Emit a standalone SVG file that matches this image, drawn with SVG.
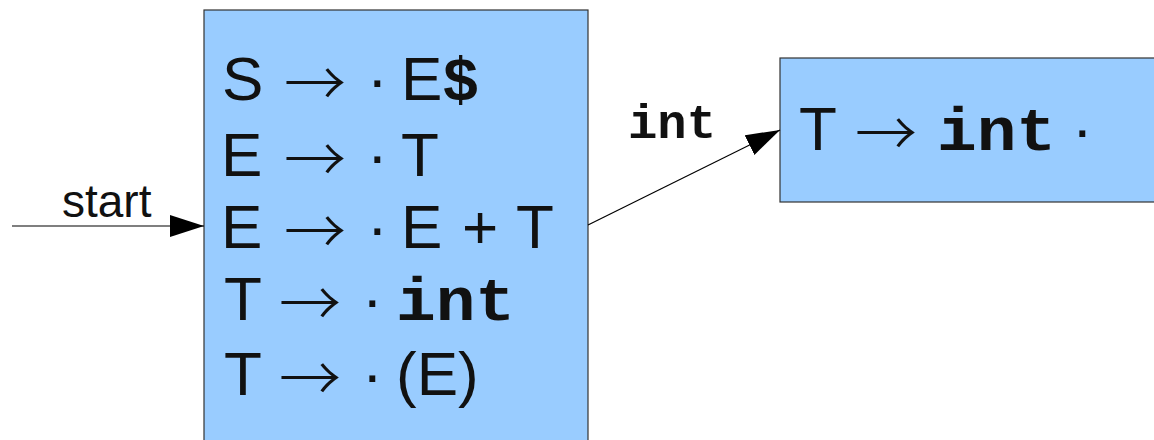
<svg xmlns="http://www.w3.org/2000/svg" width="1154" height="440" viewBox="0 0 1154 440">
<defs>
<style>
.box{fill:#99ccff;stroke:#333;stroke-width:1.2}
.t{font-family:"Liberation Sans",Arial,sans-serif;font-size:62px;fill:#111}
.a{font-family:"Noto Sans CJK JP","Noto Sans CJK SC",sans-serif;font-weight:300;font-size:62px;fill:#111}
.m{font-family:"Liberation Mono","Courier New",monospace;font-weight:bold;fill:#111}
.e{stroke:#000;stroke-width:1.2;fill:none}
</style>
<marker id="ah" markerUnits="userSpaceOnUse" markerWidth="36" markerHeight="24" refX="34" refY="11" orient="auto">
<path d="M0,0 L34,11 L0,22 Z" fill="#000"/>
</marker>
</defs>
<rect width="1154" height="440" fill="#fff"/>
<g id="state0">
<rect class="box" x="204" y="10" width="384" height="440"/>
<text class="t"><tspan x="222" y="100">S</tspan><tspan x="367" y="100">·</tspan><tspan x="401" y="100">E</tspan><tspan class="m" x="442" y="100">$</tspan></text>
<text class="a" x="284" y="107">→</text>
<text class="t"><tspan x="221" y="176">E</tspan><tspan x="367" y="176">·</tspan><tspan x="401" y="176">T</tspan></text>
<text class="a" x="284" y="183">→</text>
<text class="t"><tspan x="221" y="248">E</tspan><tspan x="367" y="248">·</tspan><tspan x="401" y="248">E</tspan><tspan x="462" y="248">+</tspan><tspan x="516" y="248">T</tspan></text>
<text class="a" x="284" y="255">→</text>
<text class="t"><tspan x="224" y="320">T</tspan><tspan x="362" y="320">·</tspan></text>
<text class="m" x="396" y="320" style="font-size:62px" textLength="119" lengthAdjust="spacingAndGlyphs">int</text>
<text class="a" x="279" y="327">→</text>
<text class="t"><tspan x="224" y="395">T</tspan><tspan x="362" y="395">·</tspan><tspan x="396" y="395">(E)</tspan></text>
<text class="a" x="279" y="402">→</text>
</g>
<g id="state1">
<rect class="box" x="780" y="58" width="390" height="144"/>
<text class="t"><tspan x="799" y="150">T</tspan><tspan x="1072" y="150">·</tspan></text>
<text class="a" x="855" y="157">→</text>
<text class="m" x="937" y="150" style="font-size:62px" textLength="119" lengthAdjust="spacingAndGlyphs">int</text>
</g>
<g id="connectors">
<line class="e" x1="12" y1="226" x2="204" y2="226" marker-end="url(#ah)"/>
<text class="t" x="62" y="217" style="font-size:46px">start</text>
<line class="e" x1="588" y1="225" x2="780" y2="130" marker-end="url(#ah)"/>
<text class="m" x="628" y="138" style="font-size:48px" textLength="88" lengthAdjust="spacingAndGlyphs">int</text>
</g>
</svg>
